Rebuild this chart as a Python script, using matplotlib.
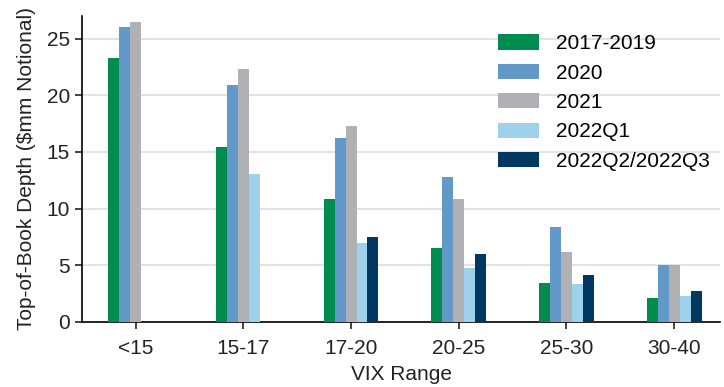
import numpy as np
import matplotlib
matplotlib.use('Agg')
import matplotlib.pyplot as plt

plt.rcParams['font.family'] = ['Liberation Sans', 'DejaVu Sans']

# Data
categories = ['<15', '15-17', '17-20', '20-25', '25-30', '30-40']
series_names = ['2017-2019', '2020', '2021', '2022Q1', '2022Q2/2022Q3']
v_2017_2019 = [23.3, 15.4, 10.85, 6.5, 3.45, 2.1]
v_2020 = [26.0, 20.9, 16.2, 12.8, 8.4, 5.0]
v_2021 = [26.5, 22.3, 17.3, 10.85, 6.2, 5.0]
v_2022q1 = [0.0, 13.05, 6.95, 4.75, 3.35, 2.3]
v_2022q23 = [0.05, 0.05, 7.5, 6.0, 4.15, 2.75]
series = [v_2017_2019, v_2020, v_2021, v_2022q1, v_2022q23]
colors = ['#008C4F', '#6399C8', '#B0B1B5', '#9DD1EC', '#003862']

fig = plt.figure(figsize=(7.24, 3.87), dpi=100)
ax = fig.add_axes([0.113, 0.168, 0.882, 0.791])

x = np.arange(len(categories))
width = 0.102
for i, (name, vals) in enumerate(zip(series_names, series)):
    ax.bar(x + (i - 2) * width, vals, width, color=colors[i], label=name, zorder=3)

ax.set_xlim(-0.5, 5.43)
ax.set_ylim(0, 27)
ax.set_yticks([0, 5, 10, 15, 20, 25])
ax.set_xticks(x)
ax.set_xticklabels(categories)
ax.grid(axis='y', color='#E3E3E3', linewidth=1.5, zorder=0)
ax.spines['top'].set_visible(False)
ax.spines['right'].set_visible(False)
ax.spines['left'].set_linewidth(1.2)
ax.spines['bottom'].set_linewidth(1.2)
ax.tick_params(axis='both', labelsize=15, colors='#222222', length=5, width=1.2)
ax.tick_params(axis='x', pad=7)
ax.set_xlabel('VIX Range', fontsize=15, color='#222222', labelpad=5)
ax.set_ylabel('Top-of-Book Depth ($mm Notional)', fontsize=15, color='#222222', labelpad=8)

ax.legend(loc='upper left', bbox_to_anchor=(0.651, 0.94), frameon=False, fontsize=15,
          borderpad=0, borderaxespad=0,
          handlelength=2.0, handleheight=0.75, labelspacing=0.5, handletextpad=0.8)

fig.savefig('out.png', dpi=100)
